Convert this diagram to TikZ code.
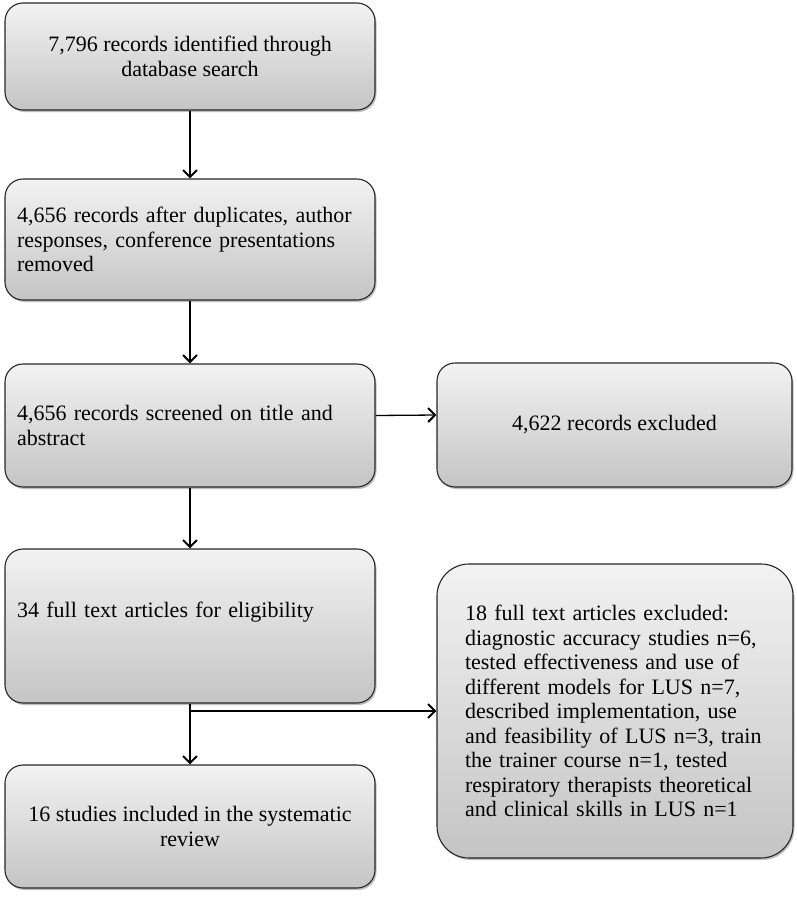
\documentclass[tikz,border=0pt]{standalone}
\usepackage{fontspec}
\setmainfont{Liberation Serif}
\usetikzlibrary{arrows.meta,shadows}
\begin{document}
\begin{tikzpicture}[x=1pt,y=-1pt,
  box/.style={draw=black!85, line width=1.1pt, rounded corners=18pt,
    top color=black!5, bottom color=black!23, shading angle=0,
    drop shadow={shadow xshift=1.5pt, shadow yshift=-2pt, opacity=0.25, fill=black},
    font=\fontsize{22}{24.5}\selectfont, inner sep=0pt},
  arr/.style={line width=1.3pt, -{Straight Barb[length=7pt,width=14pt,line width=2pt]}}
]
\useasboundingbox (0,0) rectangle (797,897);
\node[box, minimum width=370pt, minimum height=107pt, align=center] (b1) at (190,56.5)
  {7,796 records identified through\\database search};
\node[box, minimum width=370pt, minimum height=121pt, align=left, text width=346pt] (b2) at (190,239.5)
  {4,656 records after duplicates, author\\responses, conference presentations\\removed};
\node[box, minimum width=370pt, minimum height=123pt, align=left, text width=346pt] (b3) at (190,425.5)
  {4,656 records screened on title and\\abstract};
\node[box, minimum width=355pt, minimum height=124pt, align=center] (b4) at (614.5,425)
  {4,622 records excluded};
\node[box, minimum width=370pt, minimum height=154pt, align=left, text width=346pt] (b5) at (190,626)
  {34 full text articles for eligibility\\[0pt]\strut};
\node[box, minimum width=370pt, minimum height=123pt, align=center] (b6) at (190,826.5)
  {16 studies included in the systematic\\review};
\node[box, rounded corners=32pt, minimum width=356pt, minimum height=294pt, align=left, text width=300pt] (b7) at (615,711)
  {18 full text articles excluded:\\diagnostic accuracy studies n=6,\\tested effectiveness and use of\\different models for LUS n=7,\\described implementation, use\\and feasibility of LUS n=3, train\\the trainer course n=1, tested\\respiratory therapists theoretical\\and clinical skills in LUS n=1};
\draw[arr] (b1) -- (b2);
\draw[arr] (b2) -- (b3);
\draw[arr] (b3) -- (b5);
\draw[arr] ([yshift=10pt]b3.east) -- ([yshift=10pt]b4.west);
\draw[arr] (b5) -- (b6);
\coordinate (j) at (b7.west -| b5.south);
\draw[arr] (j) -- (b7.west);
\end{tikzpicture}
\end{document}
